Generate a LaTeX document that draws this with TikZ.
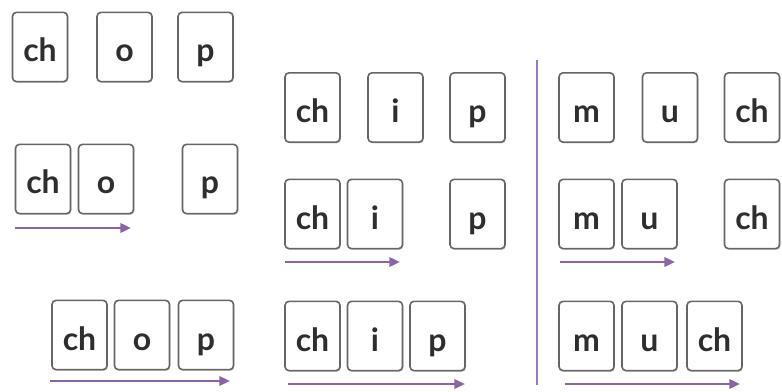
\documentclass[tikz,border=0pt]{standalone}
\usepackage{fontspec}
\setmainfont{Lato}
\usetikzlibrary{shadows,arrows.meta}
\definecolor{tileborder}{HTML}{666666}
\definecolor{tiletext}{HTML}{2E2E2E}
\definecolor{arrowpurple}{HTML}{8A64A8}
\definecolor{linepurple}{HTML}{9A7AB8}
\tikzset{
  tile/.style={draw=tileborder, line width=1.2pt, fill=white, rounded corners=3pt,
    minimum width=41.25pt, minimum height=52pt, inner sep=0pt,
    text height=22.5pt, text depth=0pt,
    text=tiletext, font=\fontsize{24}{26}\selectfont\bfseries,
    drop shadow={shadow xshift=0.6pt, shadow yshift=-0.9pt, opacity=0.35, fill=black!60}},
  readarrow/.style={draw=arrowpurple, line width=1.8pt, -{Triangle[length=8pt,width=7pt]}},
  divider/.style={draw=linepurple, line width=1.1pt}
}
\begin{document}
\begin{tikzpicture}[x=0.75pt, y=-0.75pt]
\useasboundingbox (0,0) rectangle (782,392);
% group 1: chop
\node[tile] (a11) at (40,47) {ch};
\node[tile] (a12) at (124.5,47) {o};
\node[tile] (a13) at (205.5,47) {p};
\node[tile] (a21) at (43,179) {ch};
\node[tile] (a22) at (106,179) {o};
\node[tile] (a23) at (210,179) {p};
\node[tile] (a31) at (79.5,335) {ch};
\node[tile] (a32) at (142,335) {o};
\node[tile] (a33) at (206,335) {p};
\coordinate (aa2s) at (15,228);
\coordinate (aa2e) at (131,228);
\coordinate (aa3s) at (50,381);
\coordinate (aa3e) at (230,381);
\draw[readarrow] (aa2s) -- (aa2e);
\draw[readarrow] (aa3s) -- (aa3e);
% group 2: chip
\node[tile] (b11) at (312.5,107.5) {ch};
\node[tile] (b12) at (395.5,107.5) {i};
\node[tile] (b13) at (477.5,107.5) {p};
\node[tile] (b21) at (312.5,214) {ch};
\node[tile] (b22) at (375,214) {i};
\node[tile] (b23) at (477.5,214) {p};
\node[tile] (b31) at (312.5,336) {ch};
\node[tile] (b32) at (375,336) {i};
\node[tile] (b33) at (437.5,336) {p};
\coordinate (ba2s) at (285,262);
\coordinate (ba2e) at (400,262);
\coordinate (ba3s) at (288,384);
\coordinate (ba3e) at (465,384);
\draw[readarrow] (ba2s) -- (ba2e);
\draw[readarrow] (ba3s) -- (ba3e);
% divider
\coordinate (dtop) at (537,60);
\coordinate (dbot) at (537,385);
\draw[divider] (dtop) -- (dbot);
% group 3: much
\node[tile] (c11) at (586.5,107.5) {m};
\node[tile] (c12) at (670,107.5) {u};
\node[tile] (c13) at (752,107.5) {ch};
\node[tile] (c21) at (586.5,214) {m};
\node[tile] (c22) at (649.5,214) {u};
\node[tile] (c23) at (752,214) {ch};
\node[tile] (c31) at (586.5,336) {m};
\node[tile] (c32) at (649.5,336) {u};
\node[tile] (c33) at (714.5,336) {ch};
\coordinate (ca2s) at (560,262);
\coordinate (ca2e) at (675,262);
\coordinate (ca3s) at (565,384);
\coordinate (ca3e) at (740,384);
\draw[readarrow] (ca2s) -- (ca2e);
\draw[readarrow] (ca3s) -- (ca3e);
\end{tikzpicture}
\end{document}
